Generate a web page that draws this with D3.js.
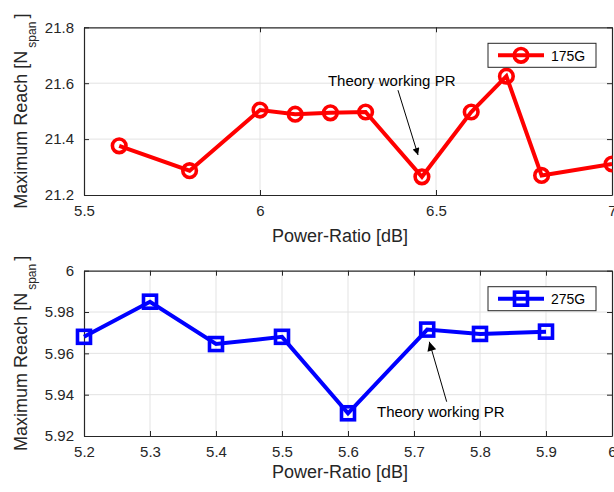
<!DOCTYPE html>
<html><head><meta charset="utf-8">
<script src="https://cdn.jsdelivr.net/npm/d3@7"></script>
<style>body{margin:0;background:#fff}svg{display:block;font-family:"Liberation Sans",Arial,Helvetica,sans-serif}</style>
</head><body><svg id="c" width="614" height="492"></svg>
<script>
// Top panel (175G)
const topX = [5.6, 5.8, 6.0, 6.1, 6.2, 6.3, 6.46, 6.6, 6.7, 6.8, 7.0];
const topY = [21.376, 21.287, 21.504, 21.489, 21.494, 21.497, 21.265, 21.497, 21.625, 21.270, 21.311];
const topXTicks = [5.5, 6, 6.5, 7];
const topYTicks = [21.2, 21.4, 21.6, 21.8];
// Bottom panel (275G)
const botX = [5.2, 5.3, 5.4, 5.5, 5.6, 5.72, 5.8, 5.9];
const botY = [5.968, 5.985, 5.9645, 5.968, 5.931, 5.9715, 5.9694, 5.9705];
const botXTicks = [5.2, 5.3, 5.4, 5.5, 5.6, 5.7, 5.8, 5.9, 6];
const botYTicks = [5.92, 5.94, 5.96, 5.98, 6];
const seriesNames = ["175G", "275G"];
const annotText = "Theory working PR";
// annotations in data coordinates: [textX, textY, tailX, tailY, tipX, tipY]
const topAnnot = [6.193, 21.589, 6.392, 21.575, 6.449, 21.343];
const botAnnot = [5.644, 5.9293, 5.7495, 5.9366, 5.7232, 5.9656];

const svg = d3.select("#c");
const ink = "#262626";
const defs = svg.append("defs");
defs.append("marker").attr("id","ah1").attr("viewBox","0 0 10 10").attr("refX",10).attr("refY",5)
  .attr("markerWidth",10).attr("markerHeight",7).attr("markerUnits","userSpaceOnUse").attr("orient","auto")
  .append("path").attr("d","M0,0L10,5L0,10z").attr("fill","#000");
defs.append("marker").attr("id","ah2").attr("viewBox","0 0 10 10").attr("refX",10).attr("refY",5)
  .attr("markerWidth",13).attr("markerHeight",9).attr("markerUnits","userSpaceOnUse").attr("orient","auto")
  .append("path").attr("d","M0,0L10,5L0,10z").attr("fill","#000");

function panel(cfg){
  const x = d3.scaleLinear().domain(cfg.xd).range([84, 612]);
  const y = d3.scaleLinear().domain(cfg.yd).range([cfg.y1, cfg.y0]);
  const g = svg.append("g");
  // grid
  g.selectAll(".gx").data(cfg.xt.slice(1,-1)).join("line")
    .attr("x1",d=>x(d)).attr("x2",d=>x(d)).attr("y1",cfg.y0).attr("y2",cfg.y1)
    .attr("stroke","#e3e3e3").attr("stroke-width",1);
  g.selectAll(".gy").data(cfg.yt.slice(1,-1)).join("line")
    .attr("y1",d=>y(d)).attr("y2",d=>y(d)).attr("x1",84).attr("x2",612)
    .attr("stroke","#e3e3e3").attr("stroke-width",1);
  // axes
  const fmt = d => String(+d.toFixed(2));
  const xa = g.append("g").attr("transform",`translate(0,${cfg.y1})`)
    .call(d3.axisBottom(x).tickValues(cfg.xt).tickFormat(fmt).tickSizeInner(-5).tickSizeOuter(0).tickPadding(10));
  const xt = g.append("g").attr("transform",`translate(0,${cfg.y0})`)
    .call(d3.axisTop(x).tickValues(cfg.xt).tickFormat("").tickSizeInner(-5).tickSizeOuter(0));
  const ya = g.append("g").attr("transform",`translate(84,0)`)
    .call(d3.axisLeft(y).tickValues(cfg.yt).tickFormat(fmt).tickSizeInner(-5).tickSizeOuter(0).tickPadding(10));
  const yr = g.append("g").attr("transform",`translate(612,0)`)
    .call(d3.axisRight(y).tickValues(cfg.yt).tickFormat("").tickSizeInner(-5).tickSizeOuter(0));
  [xa,xt,ya,yr].forEach(a=>{
    a.selectAll("path").attr("stroke",ink).attr("stroke-width",1.2);
    a.selectAll("line").attr("stroke",ink).attr("stroke-width",1);
    a.selectAll("text").attr("fill",ink).attr("font-size",15).attr("font-family","Liberation Sans, Arial, sans-serif");
  });
  // x label
  g.append("text").attr("x",340).attr("y",cfg.xlab).attr("text-anchor","middle")
    .attr("font-size",18).attr("fill",ink).text("Power-Ratio [dB]");
  // y label
  const yc = (cfg.y0+cfg.y1)/2;
  const yl = g.append("text").attr("transform",`translate(27,${yc}) rotate(-90)`)
    .attr("text-anchor","middle").attr("font-size",18).attr("fill",ink);
  yl.append("tspan").text("Maximum Reach [N");
  yl.append("tspan").attr("font-size",12).attr("dy",9).attr("dx",3).text("span");
  yl.append("tspan").attr("dy",-9).attr("dx",3).text("]");
  // line
  const pts = cfg.xs.map((v,i)=>[v,cfg.ys[i]]);
  g.append("path").datum(pts).attr("fill","none").attr("stroke",cfg.color).attr("stroke-width",4)
    .attr("stroke-linejoin","miter").attr("d",d3.line().x(d=>x(d[0])).y(d=>y(d[1])));
  const clip = "cl"+cfg.color.replace("#","");
  defs.append("clipPath").attr("id",clip).append("rect").attr("x",0).attr("y",0).attr("width",612.5).attr("height",492);
  const mk = g.append("g").attr("clip-path",`url(#${clip})`);
  if(cfg.marker==="circle"){
    mk.selectAll("circle").data(pts).join("circle").attr("cx",d=>x(d[0])).attr("cy",d=>y(d[1])).attr("r",6.8)
      .attr("fill","none").attr("stroke",cfg.color).attr("stroke-width",3.6);
  } else {
    mk.selectAll("rect").data(pts).join("rect").attr("x",d=>x(d[0])-6.5).attr("y",d=>y(d[1])-6.5)
      .attr("width",13).attr("height",13).attr("fill","none").attr("stroke",cfg.color).attr("stroke-width",3.6);
  }
  // legend
  const lg = g.append("g").attr("transform",`translate(488,${cfg.y0+16})`);
  lg.append("rect").attr("x",0).attr("y",0).attr("width",108).attr("height",24).attr("fill","#fff").attr("stroke",ink).attr("stroke-width",1);
  lg.append("line").attr("x1",10).attr("x2",56).attr("y1",12).attr("y2",12).attr("stroke",cfg.color).attr("stroke-width",4);
  if(cfg.marker==="circle") lg.append("circle").attr("cx",33).attr("cy",12).attr("r",6.8).attr("fill","none").attr("stroke",cfg.color).attr("stroke-width",3.6);
  else lg.append("rect").attr("x",26.5).attr("y",5.5).attr("width",13).attr("height",13).attr("fill","none").attr("stroke",cfg.color).attr("stroke-width",3.6);
  lg.append("text").attr("x",63).attr("y",17.5).attr("font-size",14).attr("fill","#000").text(cfg.name);
  // annotation
  const a = cfg.annot;
  g.append("text").attr("x",x(a[0])).attr("y",y(a[1])).attr("font-size",15).attr("fill","#000").text(annotText);
  g.append("line").attr("x1",x(a[2])).attr("y1",y(a[3])).attr("x2",x(a[4])).attr("y2",y(a[5]))
    .attr("stroke","#000").attr("stroke-width",1).attr("marker-end",`url(#${cfg.ah})`);
}

panel({xd:[5.5,7], yd:[21.2,21.8], y0:27.3, y1:195, xt:topXTicks, yt:topYTicks, xs:topX, ys:topY,
  color:"#ff0000", marker:"circle", name:seriesNames[0], xlab:242, annot:topAnnot, ah:"ah1"});
panel({xd:[5.2,6], yd:[5.92,6], y0:270.7, y1:436, xt:botXTicks, yt:botYTicks, xs:botX, ys:botY,
  color:"#0000ff", marker:"square", name:seriesNames[1], xlab:478, annot:botAnnot, ah:"ah2"});
</script></body></html>
